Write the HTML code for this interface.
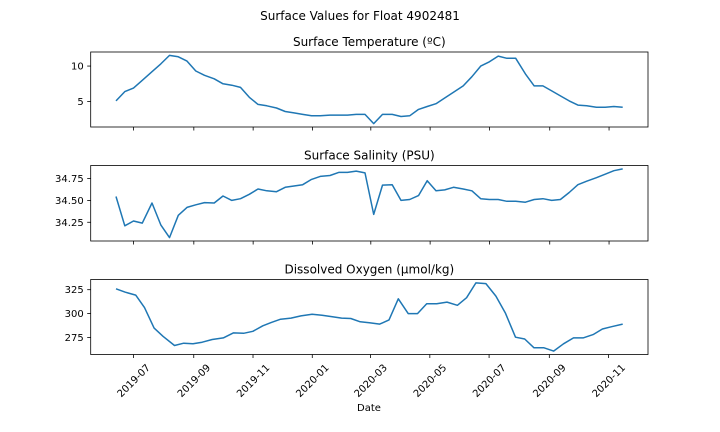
<!DOCTYPE html>
<html><head><meta charset="utf-8"><style>
html,body{margin:0;padding:0;background:#fff}
svg{display:block;font-family:"DejaVu Sans","Liberation Sans",sans-serif}
</style></head><body>
<svg id="fig" width="720" height="432" viewBox="0 0 720 432" xmlns="http://www.w3.org/2000/svg">
<rect width="720" height="432" fill="#fff"/>
<text x="360" y="20" text-anchor="middle" font-size="12">Surface Values for Float 4902481</text>
</svg>
<script>
// days offset from 2019-07-01
const tsDays = [-18,-9,0,9,19,28,37,46,55,64,73,83,92,101,110,119,128,137,147,156,165,174,183,192,202,211,220,229,238,247,256,266,275,284,293,302,311,320,329,339,348,357,366,375,384,393,403,412,421,430,439,448,457,466,476,485,494,503];
const tempValues = [5.1,6.4,6.9,8.0,9.2,10.3,11.5,11.3,10.7,9.3,8.7,8.2,7.5,7.3,7.0,5.6,4.6,4.4,4.1,3.6,3.4,3.2,3.0,3.0,3.1,3.1,3.1,3.2,3.2,1.9,3.2,3.2,2.9,3.0,3.9,4.3,4.7,5.5,6.3,7.2,8.5,10.0,10.6,11.4,11.1,11.1,8.9,7.2,7.2,6.5,5.8,5.1,4.5,4.4,4.2,4.2,4.3,4.2];
const salValues = [34.545,34.21,34.265,34.24,34.47,34.22,34.075,34.33,34.42,34.45,34.475,34.47,34.55,34.5,34.52,34.57,34.63,34.61,34.60,34.65,34.665,34.68,34.74,34.775,34.785,34.82,34.82,34.835,34.815,34.34,34.675,34.68,34.5,34.51,34.555,34.725,34.61,34.62,34.65,34.63,34.61,34.52,34.51,34.51,34.49,34.49,34.48,34.51,34.52,34.5,34.51,34.59,34.68,34.72,34.76,34.80,34.84,34.86];
const oxyDays = [-18,-8.5,2.2,11.3,21.2,30.3,42.2,51.7,61.2,70.7,81,92.4,102.7,113.3,122.9,133.1,141.9,151.4,162.1,172.3,183.8,194,204.7,214.2,223.7,233.3,242.8,253.4,263,272.5,282.7,292.3,301.8,312.1,322.7,333.4,342.9,352.4,362.7,373,382.9,393.2,402.7,412.2,422.5,432.4,442.6,452.9,462.8,473.1,482.6,492.1,503.5];
const oxyValues = [325.9,322.4,319.3,306.2,284.8,276.2,266.6,269,268.3,270,272.8,274.5,279.7,279.3,281.4,287.2,290.7,294.1,295.2,297.6,299.3,298.3,296.6,295.2,294.8,291.4,290.3,289,293.4,315.5,300,300,310.3,310.3,312,308.6,316.6,332.1,331.4,318.3,300.3,275.2,273.4,264.1,264.1,260.7,268.3,274.5,274.5,278,283.8,286.2,289];
const xTickLabels = ["2019-07","2019-09","2019-11","2020-01","2020-03","2020-05","2020-07","2020-09","2020-11"];
const xTickDays = [0,62,123,184,244,305,366,428,489];
const tempTicks = [5,10];
const salTicks = [34.25,34.50,34.75];
const salTickLabels = ["34.25","34.50","34.75"];
const oxyTicks = [275,300,325];

const NS="http://www.w3.org/2000/svg";
const svg=document.getElementById('fig');
function mk(tag,attrs,parent){const e=document.createElementNS(NS,tag);for(const k in attrs)e.setAttribute(k,attrs[k]);(parent||svg).appendChild(e);return e;}
const X0=90.7,X1=648;
function panel(name,title,top,bottom,days,vals,ticks,tlabels,showX){
  const g=mk('g',{});
  
  
  const dmin=Math.min(...days),dmax=Math.max(...days),dm=(dmax-dmin)*0.05;
  const vmin=Math.min(...vals),vmax=Math.max(...vals),vm=(vmax-vmin)*0.05;
  const xs=d=>X0+(d-(dmin-dm))/((dmax+dm)-(dmin-dm))*(X1-X0);
  const ys=v=>bottom-(v-(vmin-vm))/((vmax+vm)-(vmin-vm))*(bottom-top);
  const t=mk('text',{x:(X0+X1)/2,y:top-6,'text-anchor':'middle','font-size':12},g);
  t.textContent=title;
  
  
  xTickDays.forEach((d,i)=>{
    const x=xs(d);
    const tk=mk('line',{x1:x,x2:x,y1:bottom,y2:bottom+3.5,stroke:'#000','stroke-width':0.8},g);
    
    
    if(showX){
      const cy=bottom+26;
      const lb=mk('text',{x:x,y:cy+3.5,'text-anchor':'middle','font-size':10,transform:`rotate(-45 ${x} ${cy})`},g);
      lb.textContent=xTickLabels[i];
      
      
    }
  });
  ticks.forEach((v,i)=>{
    const y=ys(v);
    const tk=mk('line',{x1:X0-3.5,x2:X0,y1:y,y2:y,stroke:'#000','stroke-width':0.8},g);
    
    
    const lb=mk('text',{x:X0-7,y:y+3.5,'text-anchor':'end','font-size':10},g);
    lb.textContent=tlabels?tlabels[i]:String(v);
    
    
  });
  const pts=days.map((d,i)=>xs(d).toFixed(1)+','+ys(vals[i]).toFixed(1)).join(' ');
  const pl=mk('polyline',{points:pts,fill:'none',stroke:'#1f77b4','stroke-width':1.5,'stroke-linejoin':'round'},g);
  
  
  const fr=mk('rect',{x:X0,y:top,width:X1-X0,height:bottom-top,fill:'none',stroke:'#000','stroke-width':0.8},g);
  
  
}
panel('temperature','Surface Temperature (ºC)',52,127,tsDays,tempValues,tempTicks,null,false);
panel('salinity','Surface Salinity (PSU)',165.5,241,tsDays,salValues,salTicks,salTickLabels,false);
panel('oxygen','Dissolved Oxygen (µmol/kg)',279.5,354.5,oxyDays,oxyValues,oxyTicks,null,true);
const xl=mk('text',{x:369,y:411,'text-anchor':'middle','font-size':10});
xl.textContent='Date';


</script>
</body></html>
